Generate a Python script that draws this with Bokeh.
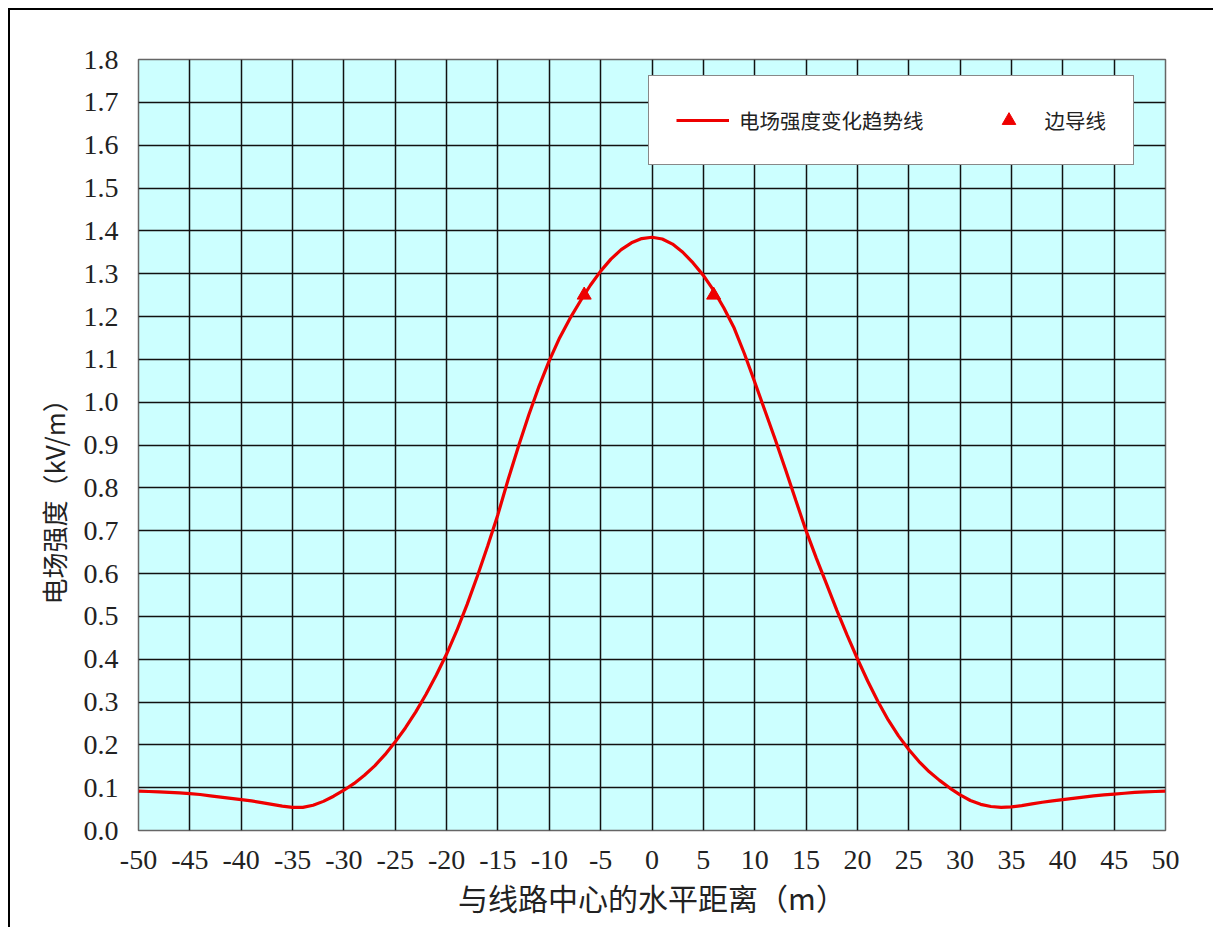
from bokeh.plotting import figure
from bokeh.models import FixedTicker, NumeralTickFormatter, Legend, LegendItem, Title
from bokeh.embed import file_html
from bokeh.resources import INLINE

# ---- data ----
distance_m = list(range(-50, 51))
field_kv_m = [
    0.092, 0.091, 0.090, 0.089, 0.088, 0.086, 0.084, 0.081, 0.078, 0.075,   # -50..-41
    0.072, 0.069, 0.065, 0.061, 0.057, 0.054, 0.054, 0.059, 0.068, 0.080,   # -40..-31
    0.094, 0.110, 0.129, 0.151, 0.177, 0.207, 0.240, 0.277, 0.318, 0.363,   # -30..-21
    0.412, 0.467, 0.528, 0.594, 0.664, 0.738, 0.820, 0.897, 0.970, 1.037,   # -20..-11
    1.097, 1.150, 1.195, 1.235, 1.273, 1.306, 1.334, 1.356, 1.372, 1.382,   # -10..-1
    1.385,                                                                  # 0
    1.381, 1.369, 1.350, 1.325, 1.296, 1.261, 1.220, 1.173, 1.113, 1.047,   # 1..10
    0.980, 0.913, 0.843, 0.771, 0.700, 0.636, 0.575, 0.514, 0.456, 0.401,   # 11..20
    0.349, 0.301, 0.258, 0.221, 0.189, 0.161, 0.137, 0.117, 0.099, 0.083,   # 21..30
    0.070, 0.061, 0.056, 0.054, 0.055, 0.058, 0.062, 0.066, 0.069, 0.072,   # 31..40
    0.075, 0.078, 0.081, 0.083, 0.085, 0.087, 0.089, 0.090, 0.091, 0.092,   # 41..50
]
conductor_x = [-6.6, 6.0]
conductor_y = [1.25, 1.25]

x_ticks = list(range(-50, 51, 5))
y_ticks = [round(i * 0.1, 1) for i in range(19)]

line_label = "电场强度变化趋势线"
marker_label = "边导线"
x_title = "与线路中心的水平距离（m）"
y_title = "电场强度（kV/m）"

# ---- figure ----
p = figure(width=1205, height=919, x_range=(-50, 50), y_range=(0, 1.8),
           output_backend="svg", toolbar_location=None,
           min_border_left=128, min_border_right=50, min_border_top=49, min_border_bottom=99)
p.styles = {"margin-left": "8px", "margin-top": "8px",
            "border-left": "2px solid #000", "border-top": "2px solid #000"}

p.background_fill_color = "#CCFFFF"
p.border_fill_color = "white"
p.outline_line_color = "#666666"
p.outline_line_width = 1.5

p.xaxis.ticker = FixedTicker(ticks=x_ticks)
p.yaxis.ticker = FixedTicker(ticks=y_ticks)
p.xgrid.ticker = FixedTicker(ticks=x_ticks)
p.ygrid.ticker = FixedTicker(ticks=y_ticks)
p.xaxis.formatter = NumeralTickFormatter(format="0")
p.yaxis.formatter = NumeralTickFormatter(format="0.0")
for g in (p.xgrid, p.ygrid):
    g.grid_line_color = "#111111"
    g.grid_line_width = 1.5
    g.grid_line_alpha = 1.0

for ax in (p.xaxis, p.yaxis):
    ax.axis_line_color = None
    ax.major_tick_line_color = None
    ax.minor_tick_line_color = None
    ax.major_tick_out = 0
    ax.major_tick_in = 0
    ax.major_label_text_font = "Liberation Serif"
    ax.major_label_text_font_size = "28px"
    ax.major_label_text_color = "#222222"
    ax.major_label_standoff = 20

p.xaxis.axis_label = x_title
p.xaxis.axis_label_text_font = "Noto Sans CJK SC"
p.xaxis.axis_label_text_font_size = "30px"
p.xaxis.axis_label_text_font_style = "normal"
p.xaxis.axis_label_text_color = "#222222"
p.xaxis.axis_label_standoff = 3

line_r = p.line(distance_m, field_kv_m, line_color="#EE0000", line_width=3.2)
mark_r = p.scatter(conductor_x, conductor_y, marker="triangle", size=14,
                   fill_color="#EE0000", line_color="#EE0000")

ytitle = Title(text=y_title, align="left", offset=226, vertical_align="top",
               text_font="Noto Sans CJK SC", text_font_size="26px",
               text_font_style="normal", text_color="#222222")
try:
    ytitle.standoff = 14
except Exception:
    pass
p.add_layout(ytitle, "left")

legend = Legend(items=[LegendItem(label=line_label, renderers=[line_r]),
                       LegendItem(label=marker_label, renderers=[mark_r])],
                location=(510, 665), orientation="horizontal",
                padding=27, spacing=58, margin=0,
                glyph_width=53, glyph_height=34, label_height=20, label_standoff=10,
                label_text_font="Noto Sans CJK SC", label_text_font_size="20.5px",
                label_text_color="#222222",
                border_line_color="#111111", border_line_width=1.5,
                background_fill_color="white", background_fill_alpha=1.0)
p.add_layout(legend)

open("out.html", "w").write(file_html(p, INLINE))
